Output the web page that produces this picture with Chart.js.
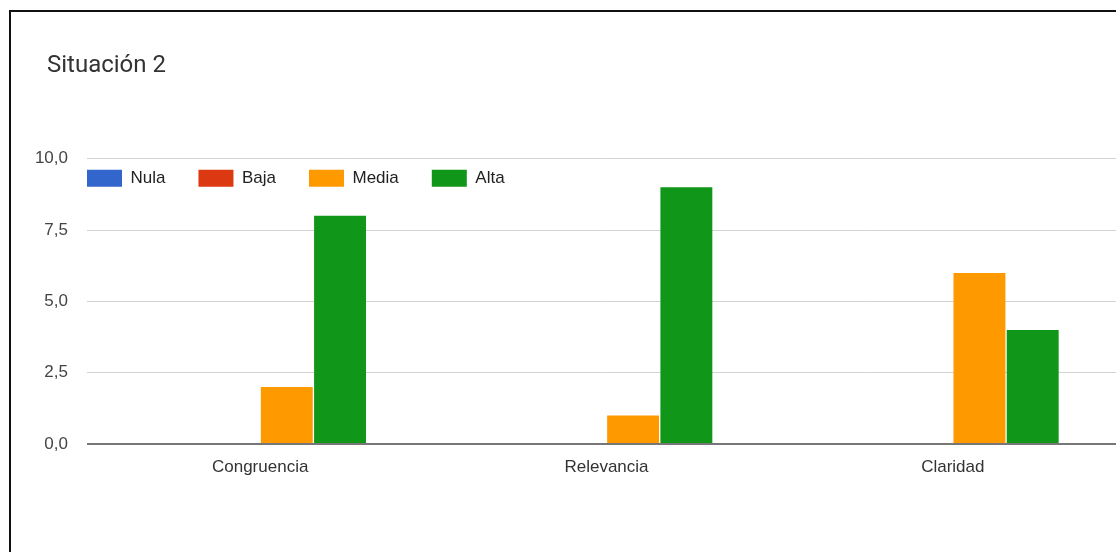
<!DOCTYPE html>
<html>
<head>
<meta charset="utf-8">
<script src="https://cdn.jsdelivr.net/npm/chart.js@4/dist/chart.umd.min.js"></script>
<style>
  body { margin: 0; overflow: hidden; background: #fff; }
  #frame { position: absolute; left: 9px; top: 10px; width: 1200px; height: 700px;
           border-left: 2px solid #111; border-top: 2px solid #111; }
  #wrap { position: absolute; left: 0; top: 0; width: 1130px; height: 552px; }
</style>
</head>
<body>
<div id="frame"></div>
<div id="wrap"><canvas id="js--chart--1"></canvas></div>
<script>
const categories = ['Congruencia', 'Relevancia', 'Claridad'];
const nula = [0, 0, 0];
const baja = [0, 0, 0];
const media = [2, 1, 6];
const alta = [8, 9, 4];
const yTickLabels = ['0,0', '2,5', '5,0', '7,5', '10,0'];

const ctx = document.getElementById('js--chart--1');

// the legend is laid out as a 1px strip on top, then moved inside the plot area;
// the title is shifted right to line up with the reference
const legendNudge = {
    id: 'legendNudge',
    afterLayout(chart) {
        const lg = chart.legend;
        const pad = chart.options.plugins.legend.labels.padding;
        lg.left = chart.chartArea.left - pad;
        lg.right = chart.chartArea.right;
        lg.top = chart.chartArea.top + 11 - pad;
        lg.bottom = lg.top + 90;
        lg.width = lg.right - lg.left;
        lg.height = 90;
        chart.titleBlock.left = 47;
    }
};

const barChart = new Chart(ctx, {
    type: 'bar',
    data: {
        labels: categories,
        datasets: [
            { label: 'Nula', data: nula, backgroundColor: '#3366cc' },
            { label: 'Baja', data: baja, backgroundColor: '#dc3912' },
            { label: 'Media', data: media, backgroundColor: '#ff9900' },
            { label: 'Alta', data: alta, backgroundColor: '#109618' }
        ]
    },
    options: {
        responsive: true,
        maintainAspectRatio: false,
        animation: false,
        datasets: {
            bar: { categoryPercentage: 0.615, barPercentage: 0.975, borderWidth: 0 }
        },
        layout: { padding: { left: 20, right: 4, top: 0, bottom: 68 } },
        plugins: {
            title: {
                display: true,
                text: 'Situación 2',
                align: 'start',
                color: '#333',
                font: { family: 'Roboto', size: 24, weight: 'normal' },
                padding: { top: 52, bottom: 77 }
            },
            legend: {
                position: 'top',
                align: 'start',
                maxHeight: 1,
                labels: {
                    boxWidth: 35,
                    boxHeight: 17,
                    padding: 33,
                    color: '#222',
                    font: { family: 'Liberation Sans', size: 17 }
                }
            },
            tooltip: { enabled: false }
        },
        scales: {
            x: {
                grid: { display: false, drawTicks: false },
                border: { display: false },
                ticks: {
                    padding: 13,
                    color: '#333',
                    font: { family: 'Liberation Sans', size: 17 }
                },
                afterFit(scale) { scale.height = 40; }
            },
            y: {
                min: 0,
                max: 10,
                grid: {
                    drawTicks: false,
                    color: c => c.tick.value === 0 ? '#777' : '#d3d3d3',
                    lineWidth: c => c.tick.value === 0 ? 2 : 1
                },
                border: { display: false },
                ticks: {
                    stepSize: 2.5,
                    padding: 19,
                    color: '#444',
                    font: { family: 'Liberation Sans', size: 17 },
                    callback: (v, i) => yTickLabels[i]
                },
                afterFit(scale) { scale.width = 67; }
            }
        }
    },
    plugins: [legendNudge]
});
</script>
</body>
</html>
